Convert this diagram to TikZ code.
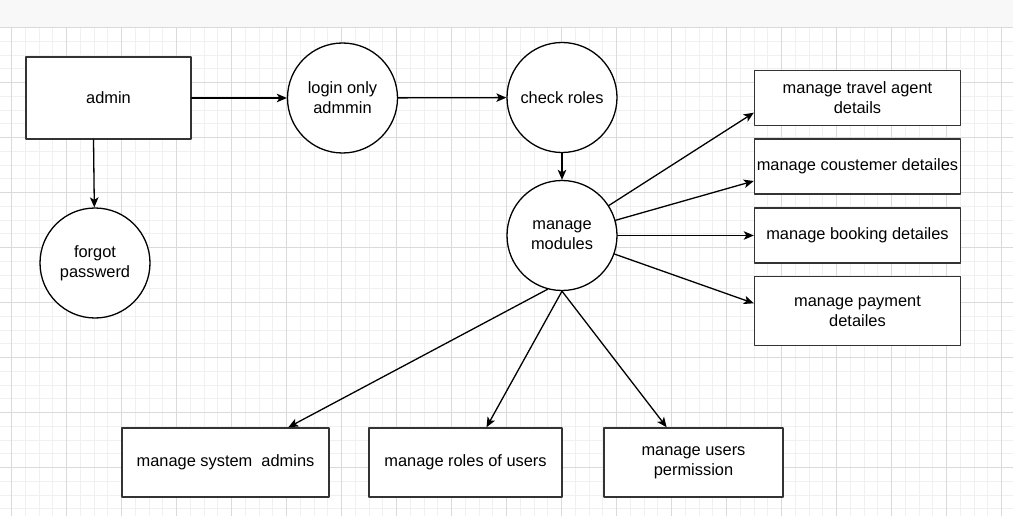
\documentclass[tikz,border=0pt]{standalone}
\usepackage{fontspec}
\setmainfont{Liberation Sans}
\usetikzlibrary{arrows.meta}
\definecolor{gridmin}{HTML}{F0F0F0}
\definecolor{gridmaj}{HTML}{DADADA}
\definecolor{topbar}{HTML}{F8F8F8}

\begin{document}
\begin{tikzpicture}[line cap=round,line join=round,>={Stealth[length=10pt,width=8.5pt,inset=2.5pt]},x=1.0pt,y=-1.0pt,
		box/.style={draw=black!80,line width=1.4pt,fill=white,rectangle,align=center,inner sep=1pt},
		bubble/.style={draw=black,line width=1.3pt,fill=white,circle,minimum size=110pt,inner sep=0pt,align=center},
		flow/.style={->,line width=1.3pt,color=black},
		font=\fontsize{16.4}{20}\selectfont]
		\useasboundingbox (0,0) rectangle (1013,516);
		\fill[white] (0,0) rectangle (1013,516);
		% grid
		\foreach \i in {0,...,73}
		\draw[gridmin,line width=1pt] (11.7+13.75*\i,27.7) -- (11.7+13.75*\i,516);
		\foreach \i in {0,...,35}
		\draw[gridmin,line width=1pt] (0,27.7+13.75*\i) -- (1013,27.7+13.75*\i);
		\foreach \i in {0,...,18}
		\draw[gridmaj,line width=1pt] (11.7+55*\i,27.7) -- (11.7+55*\i,516);
		\foreach \i in {0,...,8}
		\draw[gridmaj,line width=1pt] (0,27.7+55*\i) -- (1013,27.7+55*\i);
		\fill[topbar] (0,0) rectangle (1013,27.7);
		\draw[gridmaj,line width=1pt] (0,27.7) -- (1013,27.7);
		% nodes
		\node[box,minimum width=165pt,minimum height=82pt] (admin) at (108.5,98) {admin};
		\node[bubble] (login) at (342.5,98) {login only\\admmin};
		\node[bubble] (check) at (562,97.5) {check roles};
		\node[bubble] (modules) at (562,235.5) {manage\\modules};
		\node[bubble] (forgot) at (95,263) {forgot\\passwerd};
		\node[box,minimum width=206pt,minimum height=55pt] (travel) at (857.5,98) {manage travel agent\\details};
		\node[box,minimum width=206pt,minimum height=55pt] (customer) at (857.5,166.5) {manage coustemer detailes};
		\node[box,minimum width=206pt,minimum height=55pt] (booking) at (857.5,235.5) {manage booking detailes};
		\node[box,minimum width=206pt,minimum height=69pt] (payment) at (857.5,311) {manage payment\\detailes};
		\node[box,minimum width=207pt,minimum height=69pt] (sysadm) at (225.5,462.5) {manage system~ admins};
		\node[box,minimum width=193pt,minimum height=69pt] (roles) at (465.5,462.5) {manage roles of users};
		\node[box,minimum width=179pt,minimum height=69pt] (perm) at (693.5,462.5) {manage users\\permission};
		% connectors
		\draw[flow] (admin) -- (login);
		\draw[flow] (login) -- (check);
		\draw[flow] (check) -- (modules);
		\draw[flow] ([xshift=-15pt]admin.south) -- (forgot);
		\draw[flow] (modules) -- ([yshift=-14.7pt]travel.west);
		\draw[flow] (modules) -- ([yshift=-14.5pt]customer.west);
		\draw[flow] (modules) -- (booking);
		\draw[flow] (modules) -- ([yshift=7.7pt]payment.west);
		\draw[flow] (modules.-105) -- ([xshift=62.8pt]sysadm.north);
		\draw[flow] (modules.south) -- ([xshift=21pt]roles.north);
		\draw[flow] (modules.south) -- ([xshift=-26.8pt]perm.north);
\end{tikzpicture}
\end{document}
